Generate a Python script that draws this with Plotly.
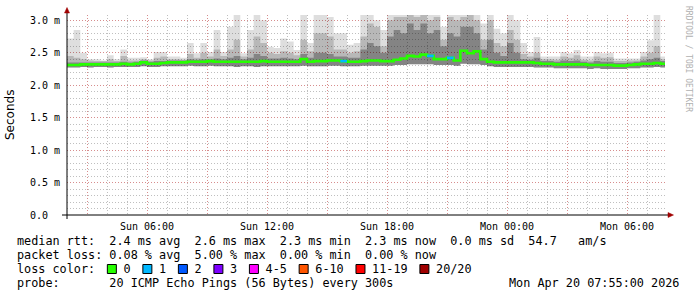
import plotly.graph_objects as go
import pandas as pd

# ---------------- data ----------------
t_start = "2026-04-19 02:00"
t_end = "2026-04-20 07:54"
bin_minutes = 20  # each value covers 20 minutes

median_ms = [2.31,2.31,2.32,2.32,2.32,2.32,2.32,2.32,2.33,2.32,
             2.33,2.35,2.33,2.33,2.34,2.35,2.35,2.35,2.36,2.36,
             2.36,2.37,2.36,2.36,2.36,2.36,2.36,2.36,2.36,2.37,
             2.36,2.36,2.36,2.36,2.36,2.40,2.36,2.37,2.37,2.38,
             2.38,2.37,2.36,2.36,2.37,2.38,2.38,2.37,2.37,2.39,
             2.41,2.45,2.44,2.47,2.45,2.40,2.40,2.42,2.38,2.53,
             2.49,2.52,2.40,2.36,2.35,2.35,2.35,2.35,2.35,2.35,
             2.34,2.33,2.33,2.32,2.32,2.32,2.32,2.32,2.31,2.31,
             2.31,2.31,2.30,2.30,2.31,2.32,2.33,2.33,2.34,2.33]

max_ms = [2.72,2.85,2.50,2.40,2.40,2.38,2.46,2.40,2.55,2.42,
          2.42,2.43,2.40,2.51,2.51,2.44,2.44,2.42,2.65,2.49,
          2.65,2.51,2.85,2.51,2.90,3.08,2.49,2.85,3.08,3.00,
          2.59,2.57,2.72,2.67,2.54,3.08,2.65,3.08,3.08,3.05,
          2.80,2.80,2.62,2.65,3.08,3.08,3.00,2.85,3.08,3.08,
          3.08,3.08,3.08,3.08,3.08,3.08,2.90,3.08,3.08,3.08,
          3.08,3.08,2.95,3.08,2.87,2.80,3.08,3.00,2.65,2.51,
          2.74,2.44,2.44,2.44,2.51,2.49,2.54,2.44,2.44,2.51,
          2.49,2.50,2.41,2.41,2.41,2.41,2.51,2.69,3.08,2.44]

upper_ms = [2.45,2.42,2.40,2.38,2.37,2.37,2.40,2.37,2.45,2.38,
            2.38,2.40,2.38,2.42,2.44,2.40,2.40,2.39,2.48,2.42,
            2.50,2.44,2.55,2.45,2.55,2.70,2.44,2.55,2.75,2.65,
            2.50,2.48,2.52,2.50,2.46,2.70,2.52,2.80,2.80,2.75,
            2.55,2.55,2.50,2.52,2.75,2.95,2.90,2.60,3.00,3.05,
            3.05,3.08,3.05,3.08,3.00,3.05,2.70,3.05,3.00,3.05,
            3.08,3.00,2.70,3.00,2.65,2.60,2.85,2.70,2.48,2.44,
            2.50,2.40,2.40,2.39,2.44,2.42,2.46,2.39,2.38,2.44,
            2.42,2.43,2.37,2.37,2.38,2.38,2.44,2.50,2.60,2.40]

inner_ms = [2.35,2.35,2.35,2.35,2.35,2.35,2.35,2.35,2.36,2.35,
            2.36,2.38,2.36,2.37,2.37,2.38,2.38,2.38,2.40,2.39,
            2.40,2.40,2.41,2.40,2.42,2.45,2.40,2.42,2.48,2.45,
            2.41,2.41,2.42,2.41,2.40,2.48,2.42,2.50,2.50,2.48,
            2.44,2.44,2.42,2.42,2.55,2.65,2.60,2.50,2.75,2.85,
            2.80,2.95,2.85,2.95,2.80,2.85,2.60,2.80,2.75,2.90,
            2.90,2.80,2.55,2.70,2.50,2.45,2.65,2.50,2.40,2.39,
            2.42,2.37,2.37,2.36,2.38,2.37,2.38,2.36,2.35,2.37,
            2.36,2.36,2.34,2.34,2.35,2.36,2.38,2.40,2.42,2.37]

min_ms = [2.27,2.27,2.28,2.27,2.28,2.28,2.27,2.28,2.28,2.28,
          2.28,2.29,2.28,2.28,2.29,2.29,2.29,2.29,2.30,2.29,
          2.29,2.30,2.29,2.29,2.29,2.28,2.29,2.29,2.28,2.29,
          2.29,2.29,2.29,2.29,2.29,2.30,2.29,2.29,2.29,2.30,
          2.30,2.29,2.29,2.29,2.30,2.30,2.30,2.30,2.30,2.31,
          2.31,2.32,2.32,2.32,2.32,2.31,2.31,2.31,2.30,2.33,
          2.32,2.32,2.31,2.29,2.28,2.28,2.28,2.28,2.28,2.28,
          2.27,2.27,2.27,2.26,2.26,2.26,2.26,2.26,2.25,2.26,
          2.25,2.25,2.25,2.25,2.26,2.26,2.27,2.27,2.28,2.27]

# lost pings out of 20 per bin
lost_pings = [0]*41 + [1] + [0]*12 + [1] + [0]*2 + [1] + [0]*32

loss_labels = ["0", "1", "2", "3", "4-5", "6-10", "11-19", "20/20"]
loss_colors = ["#26ff00", "#00b8ff", "#0059ff", "#7e00ff", "#ff00ff",
               "#ff5500", "#ff0000", "#a00000"]
loss_upper = [0, 1, 2, 3, 5, 10, 19, 20]

x_tick_times = ["2026-04-19 03:00", "2026-04-19 06:00", "2026-04-19 09:00",
                "2026-04-19 12:00", "2026-04-19 15:00", "2026-04-19 18:00",
                "2026-04-19 21:00", "2026-04-20 00:00", "2026-04-20 03:00",
                "2026-04-20 06:00"]
x_tick_text = ["", "Sun 06:00", "", "Sun 12:00", "", "Sun 18:00", "",
               "Mon 00:00", "", "Mon 06:00"]
y_tick_vals = [0.0, 0.5, 1.0, 1.5, 2.0, 2.5, 3.0]
y_tick_text = ["0.0\u00a0\u00a0", "0.5 m", "1.0 m", "1.5 m", "2.0 m", "2.5 m", "3.0 m"]

stats_lines = [
    "median rtt:  2.4 ms avg  2.6 ms max  2.3 ms min  2.3 ms now  0.0 ms sd  54.7   am/s",
    "packet loss: 0.08 % avg  5.00 % max  0.00 % min  0.00 % now",
]
probe_line = "probe:       20 ICMP Echo Pings (56 Bytes) every 300s"
stamp = "Mon Apr 20 07:55:00 2026"

n = len(median_ms)
for arr in (max_ms, upper_ms, inner_ms, min_ms, lost_pings):
    assert len(arr) == n

edges = list(pd.date_range(t_start, periods=n + 1, freq=f"{bin_minutes}min"))

def ext(v):
    return list(v) + [v[-1]]

# ---------------- geometry helpers (pixels -> paper) ----------------
W, H = 697, 297
L, R, T, B = 67, 665, 15, 215
def px(x):
    return (x - L) / (R - L)
def py(y):
    return (B - y) / (B - T)

fig = go.Figure()

def band(lo, hi, color):
    fig.add_trace(go.Scatter(x=edges, y=ext(lo), mode="lines", line=dict(width=0, shape="hv"),
                             hoverinfo="skip", showlegend=False))
    fig.add_trace(go.Scatter(x=edges, y=ext(hi), mode="lines", line=dict(width=0, shape="hv"),
                             fill="tonexty", fillcolor=color, hoverinfo="skip", showlegend=False))

band(min_ms, max_ms, "rgba(0,0,0,0.13)")
band(min_ms, upper_ms, "rgba(0,0,0,0.17)")
band(min_ms, inner_ms, "rgba(0,0,0,0.28)")

fig.add_trace(go.Scatter(x=edges, y=ext(median_ms), mode="lines",
                         line=dict(color=loss_colors[0], width=2.6, shape="hv"),
                         hoverinfo="skip", showlegend=False))

def color_for(lost):
    for up, c in zip(loss_upper, loss_colors):
        if lost <= up:
            return c
    return loss_colors[-1]

for k in range(1, len(loss_colors)):
    xs, ys = [], []
    for i in range(n):
        if lost_pings[i] > 0 and color_for(lost_pings[i]) == loss_colors[k]:
            xs += [edges[i], edges[i + 1], None]
            ys += [median_ms[i], median_ms[i], None]
    if xs:
        fig.add_trace(go.Scatter(x=xs, y=ys, mode="lines",
                                 line=dict(color=loss_colors[k], width=2.6),
                                 hoverinfo="skip", showlegend=False))

mono = "DejaVu Sans Mono"
red_grid = "rgba(225,120,120,0.7)"
gray_grid = "rgba(170,170,170,0.75)"
dash = "1px,2px"

fig.update_layout(
    width=W, height=H,
    margin=dict(l=L, r=W - R, t=T, b=H - B),
    paper_bgcolor="white", plot_bgcolor="white",
    showlegend=False,
    xaxis=dict(type="date", range=[t_start, t_end],
               tickvals=x_tick_times, ticktext=x_tick_text,
               showgrid=True, gridcolor=red_grid, griddash=dash, gridwidth=1,
               minor=dict(dtick=3600000, tick0="2026-04-19 00:00", showgrid=True,
                          gridcolor=gray_grid, griddash=dash, gridwidth=1),
               ticks="", showline=False, zeroline=False,
               tickfont=dict(family=mono, size=10, color="#000"),
               ticklabelstandoff=4),
    yaxis=dict(range=[0, 3.08], tickvals=y_tick_vals, ticktext=y_tick_text,
               showgrid=True, gridcolor=red_grid, griddash=dash, gridwidth=1,
               minor=dict(dtick=0.1, tick0=0, showgrid=True,
                          gridcolor=gray_grid, griddash=dash, gridwidth=1),
               ticks="", showline=False, zeroline=False,
               tickfont=dict(family=mono, size=10, color="#000"),
               ticklabelstandoff=6),
)

shapes = []
# axes lines
shapes.append(dict(type="line", xref="paper", yref="paper", x0=px(62), x1=px(669),
                   y0=py(215), y1=py(215), line=dict(color="black", width=1)))
shapes.append(dict(type="line", xref="paper", yref="paper", x0=px(67), x1=px(67),
                   y0=py(219), y1=py(12), line=dict(color="black", width=1)))
# arrows
shapes.append(dict(type="path", xref="paper", yref="paper",
                   path=f"M {px(64.5)} {py(13)} L {px(69.5)} {py(13)} L {px(67)} {py(7.5)} Z",
                   fillcolor="#a00000", line=dict(color="#a00000", width=0.5)))
shapes.append(dict(type="path", xref="paper", yref="paper",
                   path=f"M {px(668)} {py(212.5)} L {px(668)} {py(217.5)} L {px(673.5)} {py(215)} Z",
                   fillcolor="#a00000", line=dict(color="#a00000", width=0.5)))

annotations = []
fs = 11.8
def text_at(x, y, s, size=fs, anchor="left", family=mono, color="black", angle=0, yanchor="middle"):
    annotations.append(dict(xref="paper", yref="paper", x=px(x), y=py(y),
                            text=s.replace(" ", "\u00a0"), showarrow=False,
                            xanchor=anchor, yanchor=yanchor, textangle=angle,
                            font=dict(family=family, size=size, color=color),
                            borderpad=0))

text_x = 16
line_y = [241, 255, 269, 283]
text_at(text_x, line_y[0], stats_lines[0])
text_at(text_x, line_y[1], stats_lines[1])

# loss colour legend: text with gaps, boxes drawn at character columns
cw = fs * 0.602
legend_text = "loss color:  "
col = len(legend_text)
for lab, c in zip(loss_labels, loss_colors):
    bx = text_x + col * cw - 1
    shapes.append(dict(type="rect", xref="paper", yref="paper",
                       x0=px(bx), x1=px(bx + 9), y0=py(273.5), y1=py(264.5),
                       fillcolor=c, line=dict(color="black", width=1)))
    legend_text += "  " + lab + "  "
    col += 2 + len(lab) + 2
text_at(text_x, line_y[2], legend_text.rstrip())

text_at(text_x, line_y[3], probe_line)
text_at(680, line_y[3], stamp, anchor="right")

text_at(10, 115, "Seconds", size=12, anchor="center", family="DejaVu Sans", angle=-90)
text_at(688, 59, "RRDTOOL / TOBI OETIKER", size=8, anchor="center",
        color="#b0b0b0", angle=90)

fig.update_layout(shapes=shapes, annotations=annotations)
fig.write_html("out.html")
